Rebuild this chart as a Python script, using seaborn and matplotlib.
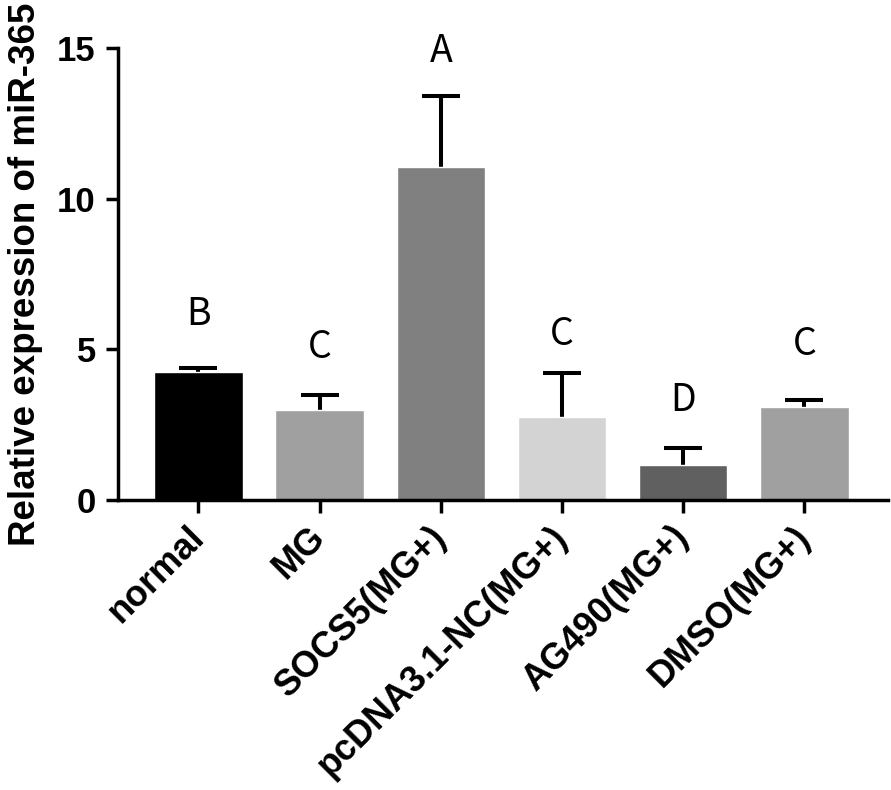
import matplotlib
matplotlib.use("Agg")
import matplotlib.pyplot as plt
import seaborn as sns
import numpy as np
import pandas as pd

# values
groups = ["normal", "MG", "SOCS5(MG+)", "pcDNA3.1-NC(MG+)", "AG490(MG+)", "DMSO(MG+)"]
means = [4.26, 2.99, 11.07, 2.77, 1.16, 3.08]
sd_upper = [0.11, 0.50, 2.33, 1.44, 0.56, 0.24]
letters = ["B", "C", "A", "C", "D", "C"]
letter_y = [6.15, 5.08, 14.9, 5.5, 3.3, 5.15]
bar_colors = ["#000000", "#a0a0a0", "#808080", "#d3d3d3", "#606060", "#a0a0a0"]

df = pd.DataFrame({"group": groups, "value": means})

sns.set_style("ticks")
plt.rcParams["font.family"] = ["Liberation Sans", "DejaVu Sans"]
plt.rcParams["text.color"] = "black"
plt.rcParams["axes.labelcolor"] = "black"
plt.rcParams["xtick.color"] = "black"
plt.rcParams["ytick.color"] = "black"
plt.rcParams["axes.edgecolor"] = "black"

fig = plt.figure(figsize=(8.91, 7.90), dpi=100)
ax = fig.add_axes([0.1324, 0.3671, 0.8642, 0.5718])

sns.barplot(data=df, x="group", y="value", hue="group", palette=bar_colors,
            legend=False, width=0.73, errorbar=None, saturation=1, ax=ax, zorder=2)

# error bars sit behind the bars so only the upper half shows
xpos = np.arange(len(groups))
ax.errorbar(xpos, means, yerr=sd_upper, fmt="none",
            ecolor="black", elinewidth=2.9, capsize=14, capthick=2.9, zorder=1)

for i, (lab, yy) in enumerate(zip(letters, letter_y)):
    ax.text(i, yy, lab, ha="center", va="center", fontsize=27,
            family=["Noto Sans CJK SC", "DejaVu Sans"], fontweight="light",
            color="black")

ax.set_ylim(0, 15)
ax.set_xlim(-0.664, 5.69)
ax.set_yticks([0, 5, 10, 15])
ax.set_xlabel("")
ax.set_ylabel("Relative expression of miR-365", fontsize=26.5, fontweight="bold", labelpad=10)

sns.despine(ax=ax)
for s in ["left", "bottom"]:
    ax.spines[s].set_linewidth(2.5)
ax.tick_params(axis="both", length=9, width=2.5)
ax.tick_params(axis="y", labelsize=25, pad=7)
ax.tick_params(axis="x", labelsize=26, pad=14)
for t in ax.get_yticklabels():
    t.set_fontweight("bold")
ax.set_xticks(xpos)
ax.set_xticklabels(groups, rotation=45, ha="right", va="center",
                   rotation_mode="anchor", fontweight="bold")

fig.savefig("out.png", dpi=100)
